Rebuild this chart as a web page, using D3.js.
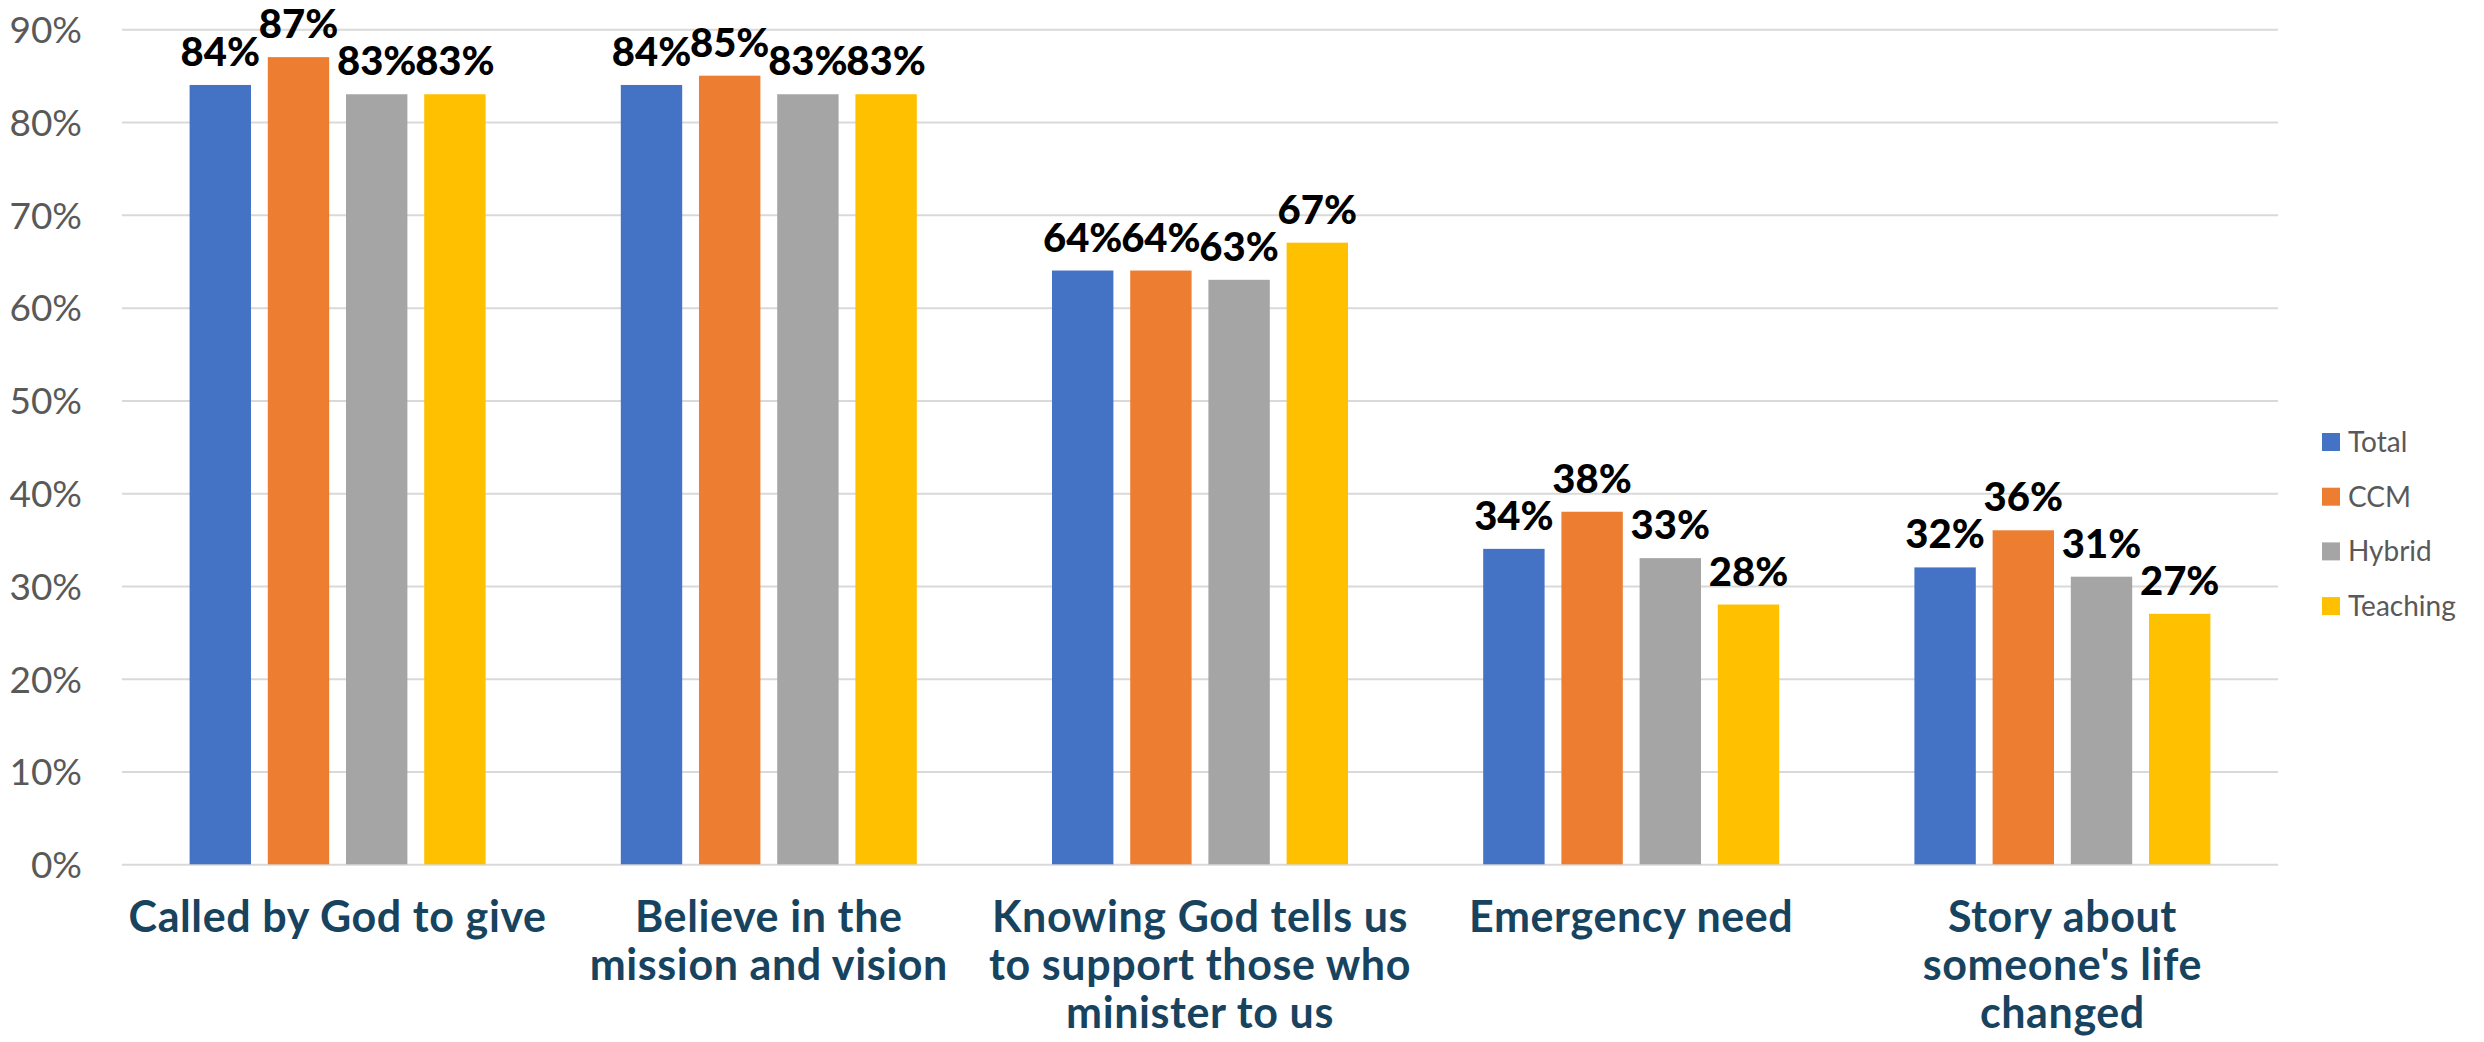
<!DOCTYPE html>
<html>
<head>
<meta charset="utf-8">
<script src="https://cdn.jsdelivr.net/npm/d3@7/dist/d3.min.js"></script>
<style>
  html, body { margin: 0; padding: 0; background: #ffffff; }
  svg { display: block; }
</style>
</head>
<body>
<svg id="chart" width="2484" height="1042"></svg>
<script>
// Reasons for giving, by ministry type (% of respondents)
const categories = [
  "Called by God to give",
  "Believe in the mission and vision",
  "Knowing God tells us to support those who minister to us",
  "Emergency need",
  "Story about someone's life changed"
];
const categoryLines = [
  ["Called by God to give"],
  ["Believe in the", "mission and vision"],
  ["Knowing God tells us", "to support those who", "minister to us"],
  ["Emergency need"],
  ["Story about", "someone's life", "changed"]
];
const seriesNames = ["Total", "CCM", "Hybrid", "Teaching"];
const totalValues    = [84, 84, 64, 34, 32];
const ccmValues      = [87, 85, 64, 38, 36];
const hybridValues   = [83, 83, 63, 33, 31];
const teachingValues = [83, 83, 67, 28, 27];
const yTicks = [0, 10, 20, 30, 40, 50, 60, 70, 80, 90];

const seriesValues = [totalValues, ccmValues, hybridValues, teachingValues];
const colors = ["#4472C4", "#ED7D31", "#A5A5A5", "#FFC000"];

const svg = d3.select("#chart");
const plot = { left: 122, right: 2278, top: 29.3, bottom: 864.3 };

const y = d3.scaleLinear().domain([0, 90]).range([plot.bottom, plot.top]);
const x0 = d3.scaleBand().domain(categories).range([plot.left, plot.right]);
const groupWidth = 296;
const x1 = d3.scaleBand().domain(seriesNames).range([0, groupWidth]).paddingInner(0.215);
const groupOffset = (x0.bandwidth() - groupWidth) / 2;

// gridlines + y tick labels
const yAxis = d3.axisLeft(y)
  .tickValues(yTicks)
  .tickSize(-(plot.right - plot.left))
  .tickPadding(40)
  .tickFormat(d => d + "%");

const gy = svg.append("g")
  .attr("transform", `translate(${plot.left},0)`)
  .call(yAxis);
gy.select(".domain").remove();
gy.selectAll(".tick line").attr("stroke", "#d9d9d9").attr("stroke-width", 2);
gy.selectAll(".tick text")
  .attr("fill", "#595959")
  .style("font-family", "Lato, 'Open Sans', sans-serif")
  .style("font-size", "37px")
  .attr("dy", "0.36em");

// bars
const rows = categories.map((c, i) => ({
  category: c,
  values: seriesNames.map((s, j) => ({ series: s, value: seriesValues[j][i], color: colors[j] }))
}));

const groups = svg.append("g").selectAll("g")
  .data(rows)
  .join("g")
  .attr("transform", d => `translate(${x0(d.category) + groupOffset},0)`);

groups.selectAll("rect")
  .data(d => d.values)
  .join("rect")
  .attr("x", d => x1(d.series))
  .attr("width", x1.bandwidth())
  .attr("y", d => y(d.value))
  .attr("height", d => y(0) - y(d.value))
  .attr("fill", d => d.color);

// value labels
groups.selectAll("text.value")
  .data(d => d.values)
  .join("text")
  .attr("class", "value")
  .attr("x", d => x1(d.series) + x1.bandwidth() / 2)
  .attr("y", d => y(d.value) - 19)
  .attr("text-anchor", "middle")
  .attr("fill", "#000000")
  .style("font-family", "Lato, 'Open Sans', sans-serif")
  .style("font-weight", "900")
  .style("font-size", "40px")
  .text(d => d.value + "%");

// category axis with wrapped labels
const xAxis = d3.axisBottom(x0).tickSize(0).tickFormat("");
const gx = svg.append("g")
  .attr("transform", `translate(0,${plot.bottom})`)
  .call(xAxis);
gx.select(".domain").remove();

gx.selectAll(".tick").each(function (d, i) {
  const t = d3.select(this).append("text")
    .attr("text-anchor", "middle")
    .attr("fill", "#17435f")
    .style("font-family", "Lato, 'Open Sans', sans-serif")
    .style("font-weight", "700")
    .style("font-size", "43px")
    .style("letter-spacing", "0.6px");
  categoryLines[i].forEach((line, k) => {
    t.append("tspan")
      .attr("x", 0)
      .attr("y", 67.5 + k * 48)
      .text(line);
  });
});

// legend
const legend = svg.append("g").attr("transform", "translate(2322,442)");
const items = legend.selectAll("g")
  .data(seriesNames)
  .join("g")
  .attr("transform", (d, i) => `translate(0,${i * 54.7})`);
items.append("rect")
  .attr("x", 0).attr("y", -9)
  .attr("width", 18).attr("height", 18)
  .attr("fill", (d, i) => colors[i]);
items.append("text")
  .attr("x", 26)
  .attr("y", 0)
  .attr("dy", "0.36em")
  .attr("fill", "#595959")
  .style("font-family", "Lato, 'Open Sans', sans-serif")
  .style("font-size", "28px")
  .text(d => d);
</script>
</body>
</html>
